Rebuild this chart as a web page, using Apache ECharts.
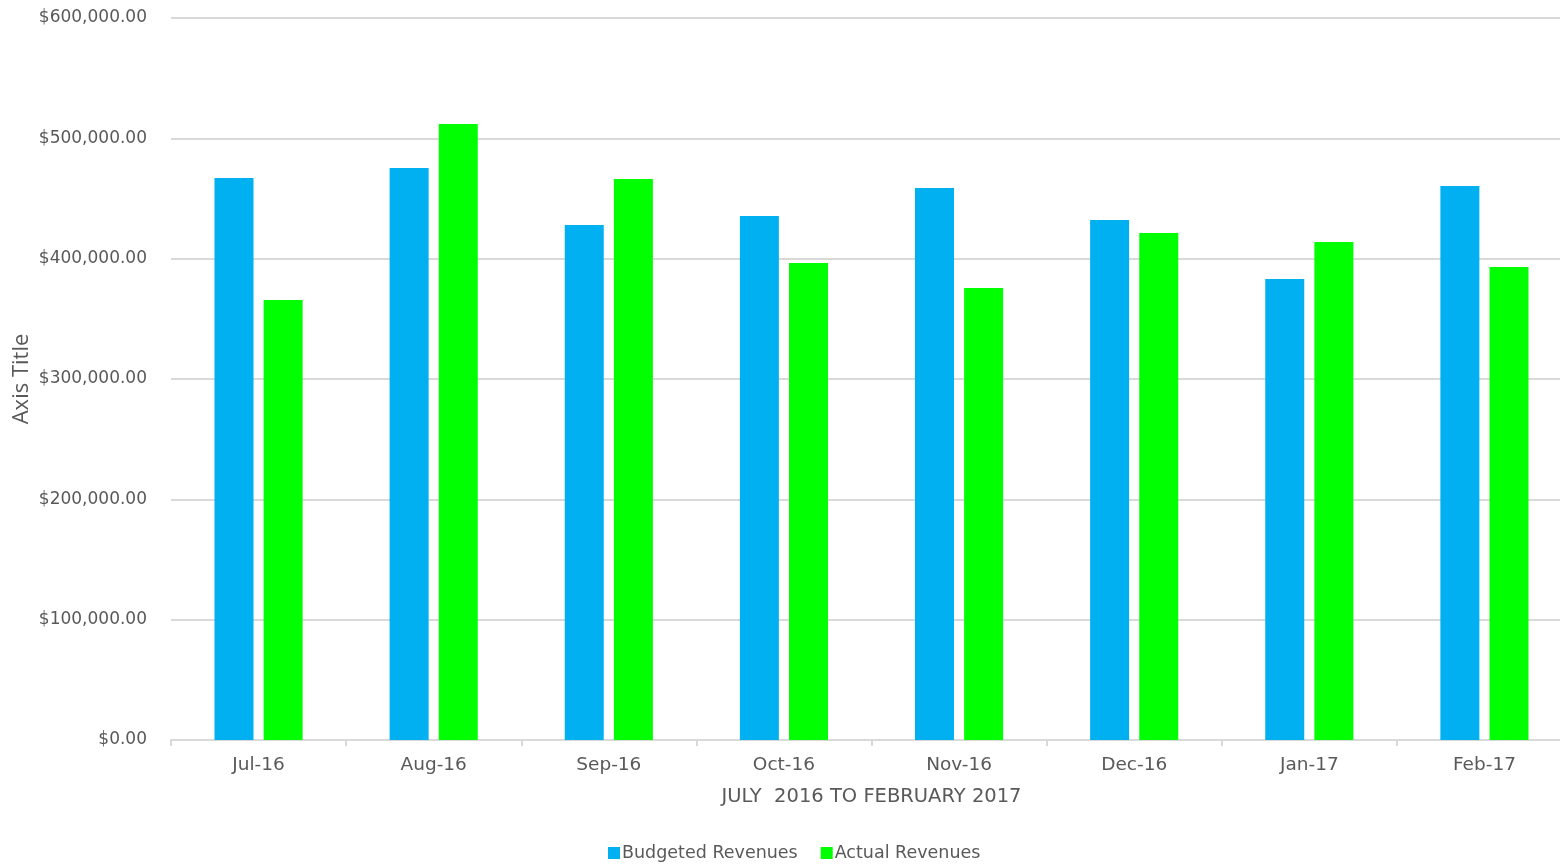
<!DOCTYPE html>
<html><head><meta charset="utf-8">
<script src="https://cdn.jsdelivr.net/npm/echarts@6/dist/echarts.min.js"></script>
<style>html,body{margin:0;padding:0;background:#fff}#c{width:1560px;height:866px}</style>
</head><body><div id="c"></div>
<script>
const categories = ["Jul-16","Aug-16","Sep-16","Oct-16","Nov-16","Dec-16","Jan-17","Feb-17"];
const budgeted = [467000, 475300, 428000, 435500, 458700, 432100, 383100, 460400];
const actual = [365700, 511900, 466200, 396400, 375600, 421300, 413900, 393100];
const seriesNames = ["Budgeted Revenues","Actual Revenues"];
const xTitle = "JULY  2016 TO FEBRUARY 2017";
const yTitle = "Axis Title";

const chart = echarts.init(document.getElementById('c'));
const txt = '#595959';
const fam = 'DejaVu Sans';
chart.setOption({
  animation:false,
  grid:{left:171,width:1401,top:18,bottom:126,outerBoundsMode:'none'},
  legend:{bottom:-1,left:603,itemWidth:12,itemHeight:12,itemGap:23,icon:'rect',
    textStyle:{color:txt,fontFamily:fam,fontSize:17.5,padding:[0,0,0,-3]},data:seriesNames},
  xAxis:{type:'category',data:categories,
    name:xTitle,nameLocation:'middle',nameGap:47,
    nameTextStyle:{color:txt,fontFamily:fam,fontSize:19.5},
    axisLine:{lineStyle:{color:'#d9d9d9',width:2}},
    axisTick:{show:true,length:6,lineStyle:{color:'#d9d9d9',width:2}},
    axisLabel:{color:txt,fontFamily:fam,fontSize:18.5,margin:16}},
  yAxis:{type:'value',min:0,max:600000,interval:100000,
    name:yTitle,nameLocation:'middle',nameGap:138,nameRotate:90,nameMoveOverlap:false,
    nameTextStyle:{color:txt,fontFamily:'Open Sans',fontSize:22},
    axisLine:{show:false},axisTick:{show:false},
    splitLine:{lineStyle:{color:'#d9d9d9',width:2}},
    axisLabel:{color:txt,fontFamily:fam,fontSize:17,margin:24,
      formatter:v=>'$'+v.toLocaleString('en-US',{minimumFractionDigits:2,maximumFractionDigits:2})}},
  series:[
    {name:seriesNames[0],type:'bar',data:budgeted,barWidth:39,barGap:'26%',itemStyle:{color:'#00b0f0'}},
    {name:seriesNames[1],type:'bar',data:actual,barWidth:39,itemStyle:{color:'#00ff00'}}
  ]
});
</script></body></html>
